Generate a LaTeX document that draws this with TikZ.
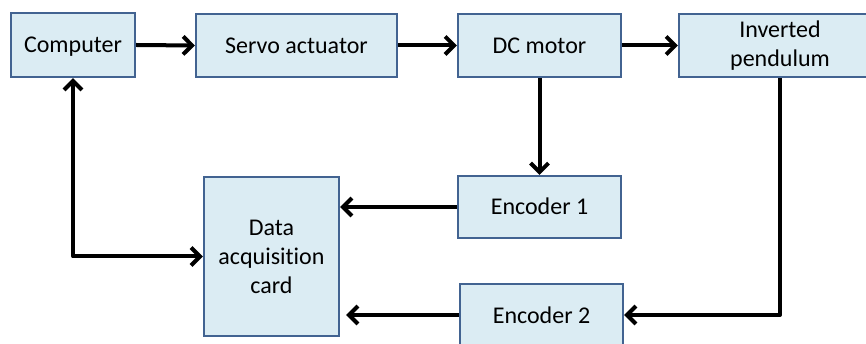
\documentclass[tikz,border=0pt]{standalone}
\usepackage{fontspec}
\setmainfont{Carlito}[Ligatures=NoCommon]
\usetikzlibrary{arrows.meta}
\definecolor{boxfill}{RGB}{219,236,243}
\definecolor{boxline}{RGB}{66,99,145}
\begin{document}
\begin{tikzpicture}[x=1pt,y=-1pt,
  blk/.style={draw=boxline,fill=boxfill,line width=2.2pt,rectangle,inner sep=0pt,align=center,
    font=\fontsize{24}{29}\selectfont},
  one/.style={blk,text height=18pt,text depth=2pt},
  conn/.style={line width=4pt,line join=round,-{Straight Barb[length=9pt,width=18pt,line width=4pt]}}]
\useasboundingbox (0,0) rectangle (866,344);
\clip (0,0) rectangle (866,344);
\node[one,minimum width=124pt,minimum height=64pt] (comp) at (73,45) {Computer};
\node[one,minimum width=201pt,minimum height=63pt] (servo) at (296.5,45.5) {Servo actuator};
\node[one,minimum width=163pt,minimum height=63pt] (dc) at (539.5,45.5) {DC motor};
\node[blk,minimum width=202pt,minimum height=63pt] (inv) at (780,45.5) {Inverted\\pendulum};
\node[blk,minimum width=135pt,minimum height=159pt] (daq) at (271.5,256.5) {Data\\acquisition\\card};
\node[one,minimum width=163pt,minimum height=62pt] (enc1) at (539.5,207) {Encoder 1};
\node[one,minimum width=163pt,minimum height=62pt] (enc2) at (541.5,315) {Encoder 2};
\coordinate (dqa) at ([xshift=6pt]daq.east |- enc2.west);
\draw[conn] (comp.east) -- (servo.west);
\draw[conn] (servo.east) -- (dc.west);
\draw[conn] (dc.east) -- (inv.west);
\draw[conn] (dc.south) -- (enc1.north);
\draw[conn] (enc1.west) -- (daq.east |- enc1.west);
\draw[conn] (inv.south) |- (enc2.east);
\draw[conn] (enc2.west) -- (dqa);
\draw[conn,{Straight Barb[length=9pt,width=18pt,line width=4pt]}-{Straight Barb[length=9pt,width=18pt,line width=4pt]}] (comp.south) |- (daq.west);
\end{tikzpicture}
\end{document}
